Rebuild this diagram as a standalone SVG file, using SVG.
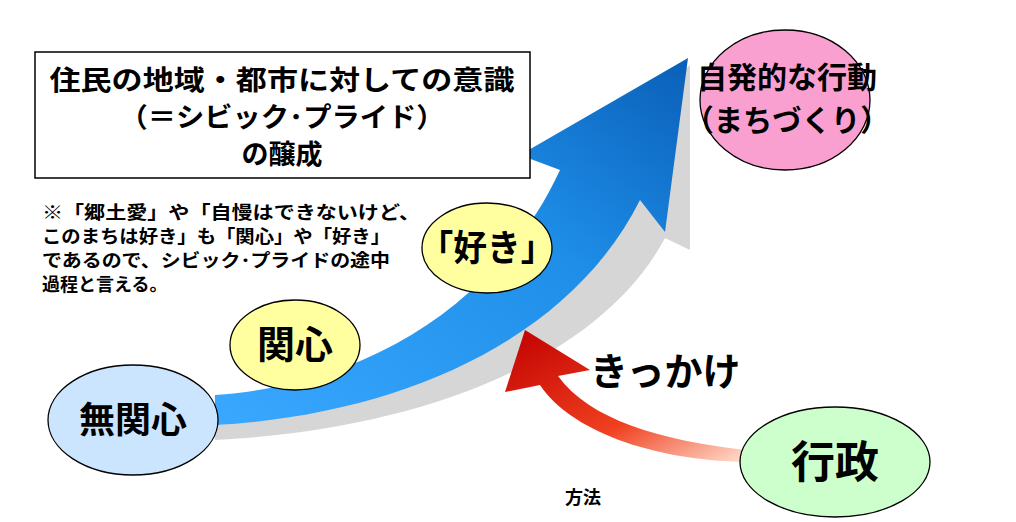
<svg xmlns="http://www.w3.org/2000/svg" width="1016" height="522" viewBox="0 0 1016 522">
<defs>
<style>
.t{font-family:"Noto Sans CJK JP","Liberation Sans",sans-serif;font-weight:bold;fill:#000}
.n{stroke:#000;stroke-width:1.3}
</style>
<linearGradient id="bl" x1="0" y1="1" x2="1" y2="0">
<stop offset="0" stop-color="#3aa8ff"/><stop offset="0.6" stop-color="#1e8ee8"/><stop offset="1" stop-color="#0a5fb8"/>
</linearGradient>
<linearGradient id="rd" x1="1" y1="1" x2="0" y2="0">
<stop offset="0" stop-color="#ffe0d0"/><stop offset="0.4" stop-color="#f04020"/><stop offset="1" stop-color="#c00000"/>
</linearGradient>
</defs>
<rect width="1016" height="522" fill="#fff"/>
<g id="connectors">
<path d="M215,412 C380,400 520,330 585,230 L560,178 L690,65 L690,250 L665,238 C600,360 420,430 215,440 Z" fill="#ccc" opacity="0.8"/>
<path d="M215,395 C370,385 500,300 560,170 L520,155 L688,58 L665,232 L640,200 C570,340 400,415 215,425 Z" fill="url(#bl)"/>
<path d="M745,462 C650,460 570,430 540,385 L505,392 L525,330 L590,370 L558,376 C590,420 660,440 745,450 Z" fill="url(#rd)"/>
</g>
<g id="box"><rect x="35" y="52" width="495" height="126" fill="#fff" stroke="#000" stroke-width="1.5"/>
<text class="t" font-size="27" text-anchor="middle"><tspan x="282" y="90" textLength="465" lengthAdjust="spacingAndGlyphs">住民の地域・都市に対しての意識</tspan><tspan x="282" y="127" textLength="325" lengthAdjust="spacingAndGlyphs">（＝シビック･プライド）</tspan><tspan x="282" y="164">の醸成</tspan></text></g>
<g id="note"><text class="t" font-size="18"><tspan x="42" y="219" textLength="378" lengthAdjust="spacingAndGlyphs">※「郷土愛」や「自慢はできないけど、</tspan><tspan x="42" y="243" textLength="348" lengthAdjust="spacingAndGlyphs">このまちは好き」も「関心」や「好き」</tspan><tspan x="42" y="267" textLength="348" lengthAdjust="spacingAndGlyphs">であるので、シビック･プライドの途中</tspan><tspan x="42" y="291">過程と言える。</tspan></text></g>
<g id="mukanshin"><ellipse class="n" cx="133" cy="420" rx="85" ry="55" fill="#cce5ff"/><text class="t" font-size="36" x="133" y="433" text-anchor="middle">無関心</text></g>
<g id="kanshin"><ellipse class="n" cx="295" cy="345" rx="65" ry="45" fill="#ffffa0"/><text class="t" font-size="38" x="295" y="358" text-anchor="middle">関心</text></g>
<g id="suki"><ellipse class="n" cx="487" cy="248" rx="65" ry="45" fill="#ffffa0"/><text class="t" font-size="36" x="487" y="261" text-anchor="middle" textLength="135" lengthAdjust="spacingAndGlyphs">「好き」</text></g>
<g id="jihatsu"><ellipse class="n" cx="785" cy="100" rx="85" ry="70" fill="#f9a0d0"/><text class="t" font-size="30" text-anchor="middle"><tspan x="787" y="88">自発的な行動</tspan><tspan x="787" y="131" textLength="205" lengthAdjust="spacingAndGlyphs">（まちづくり）</tspan></text></g>
<g id="gyosei"><ellipse class="n" cx="835" cy="462" rx="95" ry="55" fill="#ccffcc"/><text class="t" font-size="44" x="835" y="478" text-anchor="middle">行政</text></g>
<text class="t" font-size="38" x="590" y="385">きっかけ</text>
<text class="t" font-size="18" x="583" y="504" text-anchor="middle">方法</text>
</svg>
